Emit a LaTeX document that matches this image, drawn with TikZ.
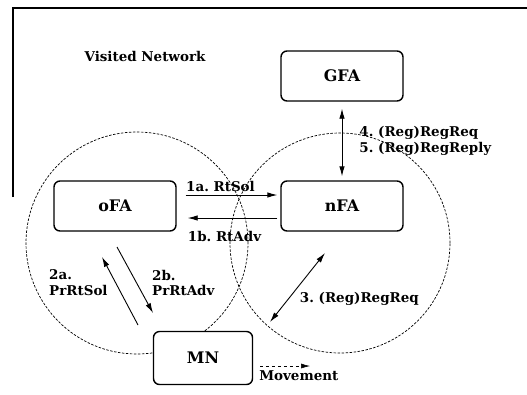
\documentclass[tikz,border=0pt]{standalone}
\usepackage{fontspec}
\setmainfont{DejaVu Serif}
\frenchspacing
\usetikzlibrary{positioning}
\usetikzlibrary{arrows.meta}
\tikzset{
    agent/.style={
        draw,
        line width=1.4bp,
        rounded corners=6bp,
        fill=white,
        minimum width=122bp,
        minimum height=50bp,
        font=\fontsize{16}{18}\selectfont\bfseries},
    area/.style={
        draw,
        dash pattern=on 2.5bp off 1.5bp,
        line width=0.7bp},
    lbl/.style={
        font=\fontsize{13.5}{15}\selectfont\bfseries,
        inner sep=1bp},
    every edge/.style={
        draw,
        ->,>={Latex[length=10bp,width=5.5bp]},
        line width=0.9bp}}

\begin{document}
\begin{tikzpicture}[x=1bp,y=-1bp]
        \useasboundingbox (0,0) rectangle (527,394);
        \draw[line width=1.5bp] (13,197) -- (13,8) -- (527,8);
        \node[lbl] (visited) at (145,56) {Visited Network};

        \draw[area] (137,243) circle [radius=111bp];
        \draw[area] (340,243) circle [radius=110bp];

        \node[agent] (GFA) at (342,76) {GFA};
        \node[agent] (oFA) at (115,206) {oFA};
        \node[agent] (nFA) at (342,206) {nFA};
        \node[agent, minimum width=99bp, minimum height=53bp] (MN) at (203,358) {MN};

        \coordinate (a2s) at (138,325);
        \coordinate (a2e) at (102,257);
        \coordinate (b2s) at (117,247);
        \coordinate (b2e) at (153,313);
        \coordinate (r3s) at (325,253);
        \coordinate (r3e) at (270,322);
        \coordinate (mvs) at (260,366);
        \coordinate (mve) at (310,366);

        \draw ([yshift=11bp]oFA.east) edge[shorten <=9bp, shorten >=3bp]
            node[lbl, above=2bp, xshift=-8bp] {1a. RtSol} ([yshift=11bp]nFA.west);
        \draw ([yshift=-12bp]nFA.west) edge[shorten <=3bp, shorten >=11bp]
            node[lbl, below=12bp, xshift=-4bp] {1b. RtAdv} ([yshift=-12bp]oFA.east);
        \draw (a2s) edge (a2e);
        \draw (b2s) edge (b2e);
        \draw (r3s) edge[<->] node[lbl, below right=3bp and 1bp] {3. (Reg)RegReq} (r3e);
        \draw (GFA) edge[<->, shorten <=7bp, shorten >=4bp]
            node[lbl, right=16bp, align=left] {4. (Reg)RegReq\\[1bp]5. (Reg)RegReply} (nFA);
        \draw (mvs) edge[dashed, line width=0.6bp, >={Latex[length=9bp,width=5bp]}]
            node[lbl, below right=3bp and -2bp, pos=0] {Movement} (mve);

        \node[lbl, align=left, anchor=west] (sol2a) at (48,283) {2a.\\[1bp]PrRtSol};
        \node[lbl, align=left, anchor=west] (adv2b) at (151,283) {2b.\\[1bp]PrRtAdv};
    \end{tikzpicture}
\end{document}
